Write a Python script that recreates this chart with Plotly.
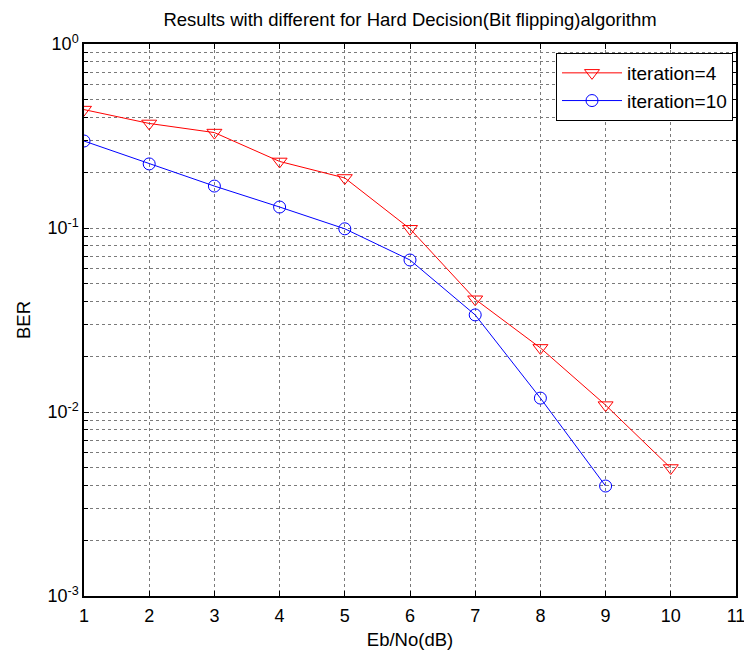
import plotly.graph_objects as go

ebno = [1, 2, 3, 4, 5, 6, 7, 8, 9, 10]
ber_iter4 = [0.44, 0.37, 0.33, 0.23, 0.187, 0.099, 0.041, 0.0223, 0.0109, 0.00496]
ebno10 = [1, 2, 3, 4, 5, 6, 7, 8, 9]
ber_iter10 = [0.297, 0.223, 0.169, 0.13, 0.099, 0.067, 0.0337, 0.0119, 0.00396]

x_ticks = list(range(1, 12))
y_major = [1e-3, 1e-2, 1e-1, 1.0]
y_major_text = ["10<sup>-3</sup>", "10<sup>-2</sup>", "10<sup>-1</sup>", "10<sup>0</sup>"]
y_minor = [m * 10 ** e for e in [-3, -2, -1] for m in range(2, 10)]

font = "Liberation Sans, Arial, sans-serif"

fig = go.Figure()
fig.add_trace(go.Scatter(
    x=ebno, y=ber_iter4, mode="lines+markers", name="iteration=4",
    line=dict(color="#ff0000", width=1),
    marker=dict(symbol="triangle-down-open", size=13, color="#ff0000", line=dict(width=1)),
))
fig.add_trace(go.Scatter(
    x=ebno10, y=ber_iter10, mode="lines+markers", name="iteration=10",
    line=dict(color="#0000ff", width=1),
    marker=dict(symbol="circle-open", size=12, color="#0000ff", line=dict(width=1)),
))

axis_common = dict(
    showline=True, linecolor="black", linewidth=1.5, mirror="ticks",
    ticks="inside", ticklen=5, tickcolor="black", tickwidth=1,
    showgrid=True, gridcolor="#7a7a7a", gridwidth=1, griddash="dot",
    zeroline=False, automargin=False, ticklabeloverflow="allow",
    tickfont=dict(size=18, color="black", family=font),
)

fig.update_layout(
    width=744, height=655,
    paper_bgcolor="white", plot_bgcolor="white",
    margin=dict(l=84, r=8, t=44, b=59),
    font=dict(family=font, color="black"),
    title=dict(text="Results with different for Hard Decision(Bit flipping)algorithm",
               x=410 / 744, xanchor="center", y=1 - 20 / 655, yanchor="middle",
               font=dict(size=18.5, color="black", family=font)),
    xaxis=dict(range=[1, 11], tickvals=x_ticks, ticktext=[str(v) for v in x_ticks],
               title=dict(text="Eb/No(dB)", font=dict(size=18.5), standoff=8),
               ticklabelstandoff=3,
               **axis_common),
    yaxis=dict(type="log", range=[-3, 0], tickvals=y_major, ticktext=y_major_text,
               title=dict(text="BER", font=dict(size=18.5), standoff=12),
               minor=dict(tickmode="array", tickvals=y_minor, ticks="inside", ticklen=4,
                          tickcolor="black", showgrid=True, gridcolor="#7a7a7a",
                          griddash="dot", gridwidth=1),
               **axis_common),
    legend=dict(x=0.9954, y=0.9837, xanchor="right", yanchor="top",
                bgcolor="white", bordercolor="black", borderwidth=1,
                font=dict(size=19, color="black", family=font),
                itemwidth=60),
    showlegend=True,
)

fig.write_html("out.html", config={"displayModeBar": False},
               post_script="document.body.style.margin='0px';document.body.style.overflow='hidden';")
